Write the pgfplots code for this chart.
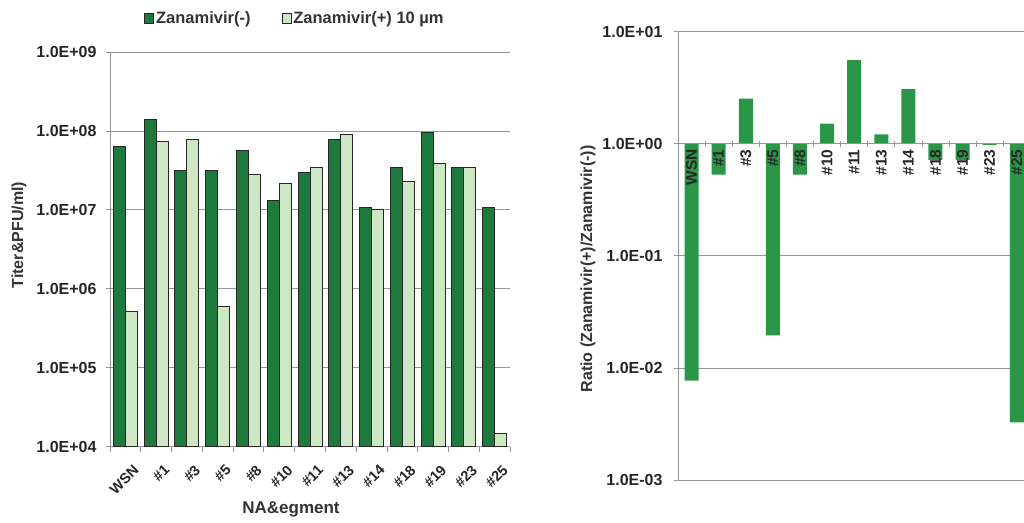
\documentclass[border=0pt]{standalone}
\usepackage{pgfplots}
\pgfplotsset{compat=1.18}
\usepackage{fontspec}
\setmainfont{Liberation Sans}
\definecolor{dkgreen}{RGB}{30,122,60}
\definecolor{ltgreen}{RGB}{205,230,196}
\definecolor{rgreen}{RGB}{42,150,72}
\definecolor{gridgray}{RGB}{150,150,150}
\pgfplotstableread{
x neg pos
0 6.4e7 5.1e5
1 1.4e8 7.3e7
2 3.2e7 7.8e7
3 3.2e7 6.0e5
4 5.6e7 2.8e7
5 1.31e7 2.17e7
6 3.0e7 3.4e7
7 7.85e7 9.0e7
8 1.07e7 1.0e7
9 3.4e7 2.3e7
10 9.5e7 3.9e7
11 3.4e7 3.4e7
12 1.07e7 1.49e4
}\titer
\pgfplotstableread{
x ratio
0 7.7e-3
1 0.53
2 2.53
3 0.0195
4 0.53
5 1.51
6 5.58
7 1.21
8 3.07
9 0.72
10 0.72
11 0.98
12 3.26e-3
}\ratio
\begin{document}
\begin{tikzpicture}[x=1pt,y=1pt]
\path[use as bounding box] (0,0) rectangle (1024,522);
% left chart
\begin{axis}[
  at={(110pt,75.3pt)}, anchor=south west,
  scale only axis, width=400pt, height=394.7pt,
  ymode=log, ymin=1e4, ymax=1e9, log origin y=infty,
  xmin=-0.5, xmax=12.5,
  ybar=0pt, bar width=12pt,
  axis y line*=left, axis x line*=bottom,
  axis line style={gridgray, line width=0.8pt},
  ytick={1e4,1e5,1e6,1e7,1e8,1e9},
  yticklabels={1.0E+04,1.0E+05,1.0E+06,1.0E+07,1.0E+08,1.0E+09},
  yminorticks=false,
  ymajorgrids, grid style={gridgray, line width=0.8pt},
  major y tick style={gridgray, line width=0.8pt},
  tick align=outside, major tick length=4pt,
  xtick={0,...,12},
  xticklabels={WSN,\#1,\#3,\#5,\#8,\#10,\#11,\#13,\#14,\#18,\#19,\#23,\#25},
  major x tick style={draw=none},
  minor xtick={-0.5,0.5,...,12.5},
  minor x tick style={gridgray, line width=0.8pt},
  minor tick length=5pt,
  tick label style={font=\fontsize{16}{18}\selectfont\bfseries, text=black!85},
  yticklabel style={xshift=-6pt},
  xticklabel style={font=\fontsize{14.5}{16}\selectfont\bfseries, rotate=45, anchor=north east, xshift=-1pt, yshift=-11pt},
  xlabel={NA\&egment},
  xlabel style={font=\fontsize{17}{19}\selectfont\bfseries, text=black!80, at={(axis description cs:0.4525,-0.158)}, anchor=center},
  ylabel={Titer\&PFU/ml)},
  ylabel style={font=\fontsize{16}{18}\selectfont\bfseries, text=black!80, at={(axis description cs:-0.2275,0.536)}, anchor=center},
  legend columns=2,
  legend style={draw=none, fill=none, at={(axis description cs:0.4625,1.086)}, anchor=center,
    font=\fontsize{16.5}{18}\selectfont\bfseries, text=black!80,
    /tikz/every even column/.append style={column sep=29pt}},
  legend image code/.code={\draw[#1, line width=0.8pt] (0pt,-5pt) rectangle (9pt,5pt);},
]
\addplot[fill=dkgreen, draw=black!85, line width=0.9pt] table[x=x, y=neg] {\titer};
\addplot[fill=ltgreen, draw=black!85, line width=0.9pt] table[x=x, y=pos] {\titer};
\legend{Zanamivir(-),Zanamivir(+) 10 µm}
\end{axis}
% right chart: bars, grid, y axis
\begin{axis}[
  at={(678pt,42pt)}, anchor=south west,
  scale only axis, width=352.3pt, height=448.3pt,
  ymode=log, ymin=1e-3, ymax=1e1, log origin y=0,
  xmin=-0.5, xmax=12.5,
  ybar, bar width=14pt,
  axis y line*=left, axis x line*=middle,
  axis line style={gridgray, line width=0.8pt},
  ytick={1e-3,1e-2,1e-1,1,1e1},
  yticklabels={1.0E-03,1.0E-02,1.0E-01,1.0E+00,1.0E+01},
  yminorticks=false,
  ymajorgrids, grid style={gridgray, line width=0.8pt},
  major y tick style={gridgray, line width=0.8pt},
  tick align=outside, major tick length=4pt,
  xtick=\empty,
  tick label style={font=\fontsize{16}{18}\selectfont\bfseries, text=black!85},
  yticklabel style={xshift=-8pt},
  ylabel={Ratio (Zanamivir(+)/Zanamivir(-))},
  ylabel style={font=\fontsize{16}{18}\selectfont\bfseries, text=black!80, at={(axis description cs:-0.2555,0.4707)}, anchor=center},
  clip=false,
]
\addplot[fill=rgreen, draw=none] table[x=x, y=ratio] {\ratio};
\end{axis}
% right chart: category axis on top of bars
\begin{axis}[
  at={(678pt,42pt)}, anchor=south west,
  scale only axis, width=352.3pt, height=448.3pt,
  ymode=log, ymin=1e-3, ymax=1e1,
  xmin=-0.5, xmax=12.5,
  axis y line=none, axis x line*=middle,
  axis line style={gridgray, line width=0.8pt},
  ytick=\empty,
  tick align=center,
  xtick={0,...,12},
  xticklabels={WSN,\#1,\#3,\#5,\#8,\#10,\#11,\#13,\#14,\#18,\#19,\#23,\#25},
  major x tick style={draw=none},
  minor xtick={-0.5,0.5,...,12.5},
  minor x tick style={gridgray, line width=0.8pt},
  minor tick length=6pt,
  xticklabel style={font=\fontsize{15.5}{17}\selectfont\bfseries, text=black!85, rotate=90, anchor=east},
  clip=false,
]
\end{axis}
\end{tikzpicture}
\end{document}
